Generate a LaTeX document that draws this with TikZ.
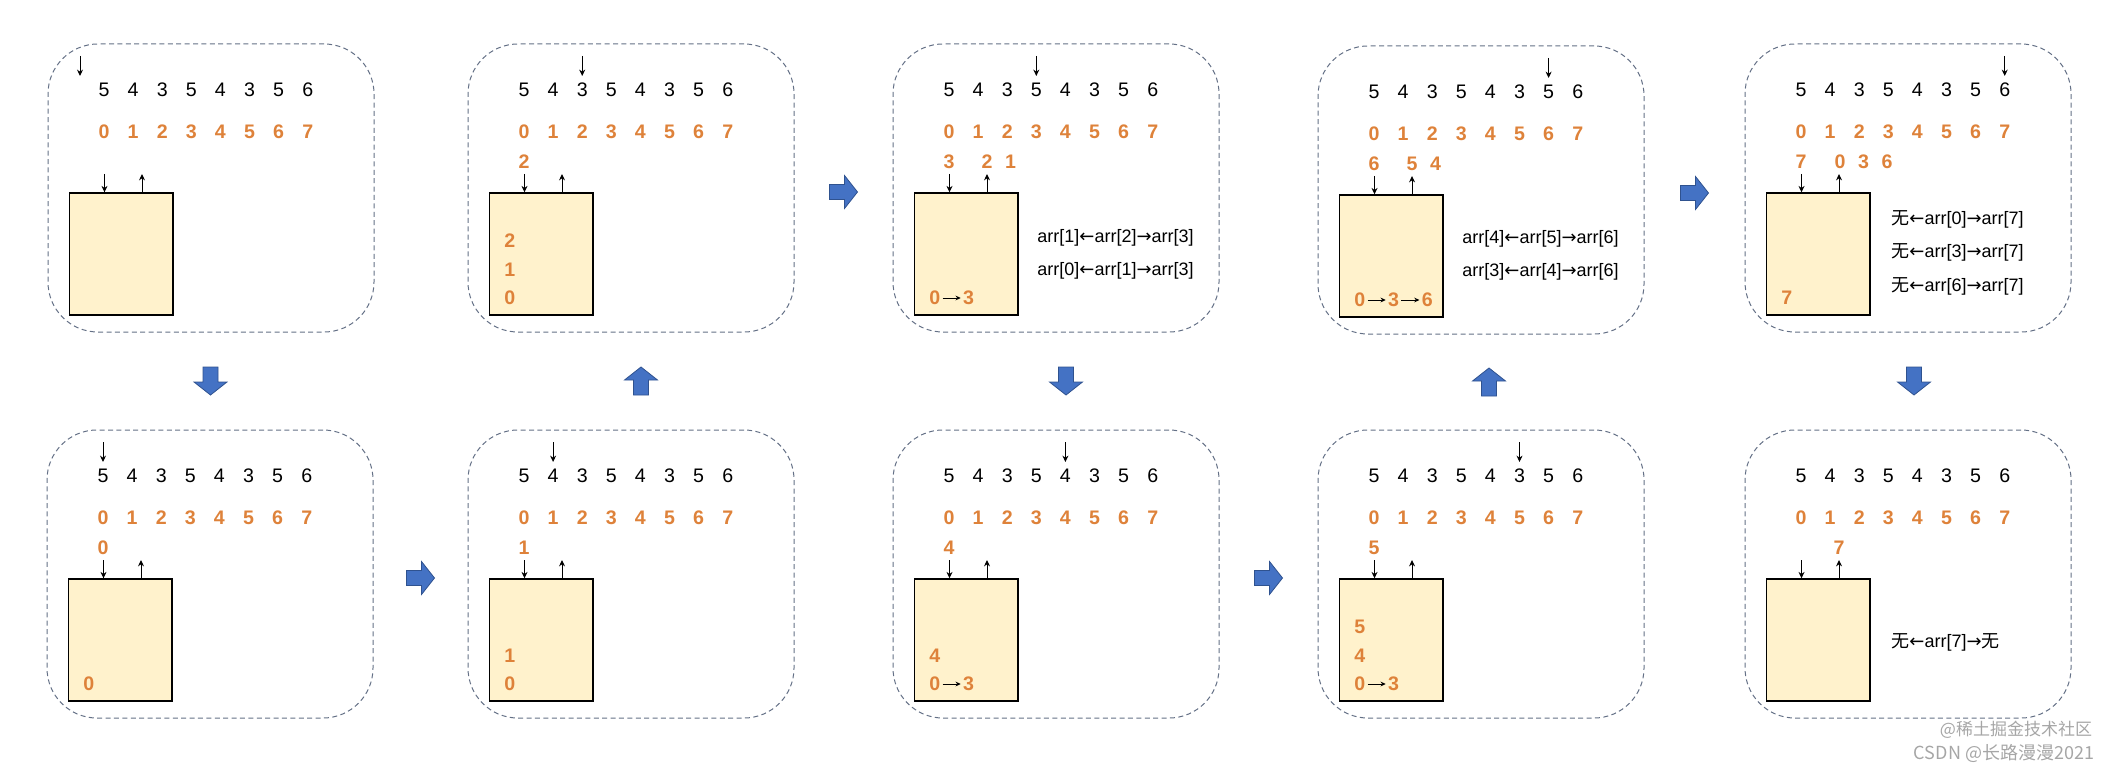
\documentclass[tikz,border=0pt]{standalone}
\usepackage{fontspec}
\setmainfont{Liberation Sans}
\newfontfamily\cjk{Noto Sans CJK SC}
\newfontfamily\arrowfont{DejaVu Sans}
\usepackage{tikz}
\usetikzlibrary{arrows.meta, positioning, calc}

\definecolor{numorange}{RGB}{222,130,58}
\definecolor{stackfill}{RGB}{255,242,204}
\definecolor{framegray}{RGB}{100,112,134}
\definecolor{arrowblue}{RGB}{68,114,196}
\definecolor{arrowedge}{RGB}{47,82,143}

\newcommand{\la}{{\arrowfont ←}}
\newcommand{\ra}{{\arrowfont →}}

\tikzset{
  panel/.style={draw=framegray, line width=0.5pt, dash pattern=on 2.5pt off 1.7pt,
    rounded corners=25pt, minimum width=163pt, minimum height=144pt, inner sep=0pt},
  val/.style={font=\fontsize{9.8}{12}\selectfont, inner sep=0pt},
  idx/.style={font=\fontsize{9.8}{12}\selectfont\bfseries, text=numorange, inner sep=0pt},
  stackbox/.style={draw, line width=0.7pt, fill=stackfill, minimum width=51.75pt,
    minimum height=61pt, inner sep=0pt},
  ptr/.style={-{Stealth[length=3.2pt,width=3pt]}, line width=0.5pt},
  link/.style={-{Stealth[length=2.6pt,width=2.4pt]}, line width=0.5pt, shorten <=1pt, shorten >=1pt},
  note/.style={font=\fontsize{9}{11}\selectfont, anchor=west, inner sep=0pt},
  blk/.style={fill=arrowblue, draw=arrowedge, line width=0.4pt},
  wmark/.style={font=\cjk\fontsize{8.5}{10}\selectfont, text=black!35, inner sep=0pt},
}

% one step of the walk: frame, values, indices, stack
\newcommand{\drawpanel}[1]{%
  \node[panel] (#1) at (163,144) {};
  \foreach \v [count=\k from 0] in {5,4,3,5,4,3,5,6}
    \node[val] (#1v\k) at ({56+29.1*\k},46) {\v};
  \foreach \k in {0,...,7}
    \node[idx] (#1i\k) at ({56+29.1*\k},88) {\k};
  \node[stackbox] (#1s) at (73.25,210) {};
  \coordinate (#1in) at (56.5,130);
  \coordinate (#1out) at (94,130);
  \draw[ptr] (#1in) -- (#1in |- #1s.north);
  \draw[ptr] (#1out |- #1s.north) -- (#1out);
}
% pointer above the current value
\newcommand{\stepptr}[2]{\draw[ptr] ($(#1v#2)+(0,-34)$) -- ($(#1v#2)+(0,-14)$);}
% blue block arrow between two steps
\newcommand{\blockarrow}[2]{\draw[blk, shift={#1}, rotate=#2] (-7.5,-14) -- (7.5,-14) -- (7.5,1)
  -- (16.5,1) -- (0,14) -- (-16.5,1) -- (-7.5,1) -- cycle;}

\begin{document}
\begin{tikzpicture}[x=0.5pt, y=-0.5pt]
    \useasboundingbox (0,0) rectangle (2118,770);

    % top row
    \begin{scope}[shift={(48,44)}]
        \drawpanel{T1}
        \coordinate (T1start) at (32,12);
        \draw[ptr] (T1start) -- ++(0,20);
    \end{scope}

    \begin{scope}[shift={(468,44)}]
        \drawpanel{T2}
        \stepptr{T2}{2}
        \node[idx] (T2e0) at (56,118) {2};
        \node[idx, anchor=west] (T2s0) at (36,254) {0};
        \node[idx, anchor=west] (T2s1) at (36,225.5) {1};
        \node[idx, anchor=west] (T2s2) at (36,197) {2};
    \end{scope}

    \begin{scope}[shift={(893,44)}]
        \drawpanel{T3}
        \stepptr{T3}{3}
        \node[idx] (T3e0) at (56,118) {3};
        \node[idx] (T3e1) at (94,118) {2};
        \node[idx] (T3e2) at (117.5,118) {1};
        \node[idx, anchor=west] (T3s0) at (36,254) {0};
        \node[idx, right=11pt of T3s0] (T3s1) {3};
        \draw[link] (T3s0) -- (T3s1);
        \node[note] (T3n0) at (144,194) {arr[1]\la arr[2]\ra arr[3]};
        \node[note] (T3n1) at (144,227) {arr[0]\la arr[1]\ra arr[3]};
    \end{scope}

    \begin{scope}[shift={(1318,46)}]
        \drawpanel{T4}
        \stepptr{T4}{6}
        \node[idx] (T4e0) at (56,118) {6};
        \node[idx] (T4e1) at (94,118) {5};
        \node[idx] (T4e2) at (117.5,118) {4};
        \node[idx, anchor=west] (T4s0) at (36,254) {0};
        \node[idx, right=11pt of T4s0] (T4s1) {3};
        \node[idx, right=11pt of T4s1] (T4s2) {6};
        \draw[link] (T4s0) -- (T4s1);
        \draw[link] (T4s1) -- (T4s2);
        \node[note] (T4n0) at (144,193) {arr[4]\la arr[5]\ra arr[6]};
        \node[note] (T4n1) at (144,226) {arr[3]\la arr[4]\ra arr[6]};
    \end{scope}

    \begin{scope}[shift={(1745,44)}]
        \drawpanel{T5}
        \stepptr{T5}{7}
        \node[idx] (T5e0) at (56,118) {7};
        \node[idx] (T5e1) at (95,118) {0};
        \node[idx] (T5e2) at (118.5,118) {3};
        \node[idx] (T5e3) at (142,118) {6};
        \node[idx, anchor=west] (T5s0) at (36,254) {7};
        \node[note] (T5n0) at (146,175) {{\cjk 无}\la arr[0]\ra arr[7]};
        \node[note] (T5n1) at (146,208.5) {{\cjk 无}\la arr[3]\ra arr[7]};
        \node[note] (T5n2) at (146,242) {{\cjk 无}\la arr[6]\ra arr[7]};
    \end{scope}

    % bottom row
    \begin{scope}[shift={(47,430)}]
        \drawpanel{B1}
        \stepptr{B1}{0}
        \node[idx] (B1e0) at (56,118) {0};
        \node[idx, anchor=west] (B1s0) at (36,254) {0};
    \end{scope}

    \begin{scope}[shift={(468,430)}]
        \drawpanel{B2}
        \stepptr{B2}{1}
        \node[idx] (B2e0) at (56,118) {1};
        \node[idx, anchor=west] (B2s0) at (36,254) {0};
        \node[idx, anchor=west] (B2s1) at (36,225.5) {1};
    \end{scope}

    \begin{scope}[shift={(893,430)}]
        \drawpanel{B3}
        \stepptr{B3}{4}
        \node[idx] (B3e0) at (56,118) {4};
        \node[idx, anchor=west] (B3s0) at (36,254) {0};
        \node[idx, right=11pt of B3s0] (B3s1) {3};
        \draw[link] (B3s0) -- (B3s1);
        \node[idx, anchor=west] (B3s2) at (36,225.5) {4};
    \end{scope}

    \begin{scope}[shift={(1318,430)}]
        \drawpanel{B4}
        \stepptr{B4}{5}
        \node[idx] (B4e0) at (56,118) {5};
        \node[idx, anchor=west] (B4s0) at (36,254) {0};
        \node[idx, right=11pt of B4s0] (B4s1) {3};
        \draw[link] (B4s0) -- (B4s1);
        \node[idx, anchor=west] (B4s2) at (36,225.5) {4};
        \node[idx, anchor=west] (B4s3) at (36,197) {5};
    \end{scope}

    \begin{scope}[shift={(1745,430)}]
        \drawpanel{B5}
        \node[idx] (B5e0) at (94,118) {7};
        \node[note] (B5n0) at (146,212) {{\cjk 无}\la arr[7]\ra{\cjk 无}};
    \end{scope}

    % flow between the steps
    \blockarrow{($(T1.south)!0.5!(B1.north)$)}{0}
    \blockarrow{($(B1.east)!0.5!(B2.west)+(0,4)$)}{90}
    \blockarrow{($(B2.north)!0.5!(T2.south)+(10,0)$)}{180}
    \blockarrow{($(T2.east)!0.5!(T3.west)+(0,4)$)}{90}
    \blockarrow{($(T3.south)!0.5!(B3.north)+(10,0)$)}{0}
    \blockarrow{($(B3.east)!0.5!(B4.west)+(0,4)$)}{90}
    \blockarrow{($(B4.north)!0.5!(T4.south)+(8,0)$)}{180}
    \blockarrow{($(T4.east)!0.5!(T5.west)+(0,4)$)}{90}
    \blockarrow{($(T5.south)!0.5!(B5.north)+(6,0)$)}{0}

    % watermark
    \node[wmark] (wm1) at (2016,730) {@稀土掘金技术社区};
    \node[wmark, font=\cjk\fontsize{9}{10}\selectfont] (wm2) at (2004,753) {CSDN @长路漫漫2021};
\end{tikzpicture}
\end{document}
